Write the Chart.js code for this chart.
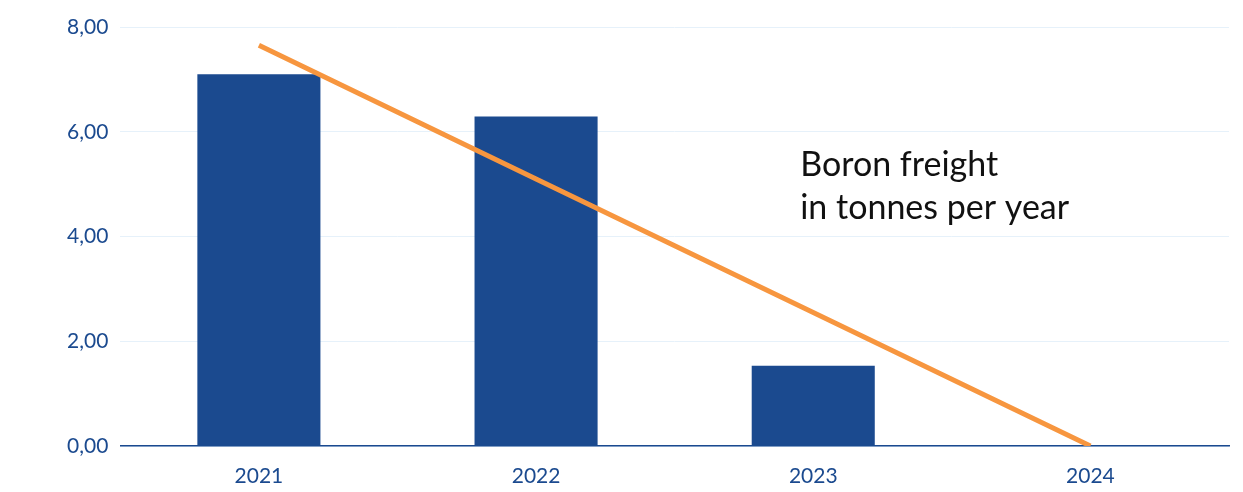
<!DOCTYPE html>
<html>
<head>
<meta charset="utf-8">
<script src="https://cdn.jsdelivr.net/npm/chart.js@4"></script>
<style>
  html, body { margin: 0; padding: 0; background: #fff; }
  #wrap { width: 1243px; height: 492px; }
</style>
</head>
<body>
<div id="wrap"><canvas id="myChart"></canvas></div>
<script>
// values
const years = ["2021", "2022", "2023", "2024"];
const freight = [7.10, 6.29, 1.53, 0];
const trend = [7.65, 5.10, 2.55, 0];
const noteLines = ["Boron freight", "in tonnes per year"];

const blue = "#1b4a8f";
const orange = "#f7963f";

// draws the text note inside the plot
const notePlugin = {
  id: "note",
  afterDraw(chart) {
    const ctx = chart.ctx;
    const x = chart.scales.x;
    const y = chart.scales.y;
    const step = x.getPixelForValue(2) - x.getPixelForValue(1);
    const left = x.getPixelForValue(1) + 0.953 * step;
    ctx.save();
    ctx.fillStyle = "#111";
    ctx.font = "34px Lato";
    ctx.textBaseline = "alphabetic";
    ctx.fillText(noteLines[0], left, y.getPixelForValue(5.16));
    ctx.fillText(noteLines[1], left, y.getPixelForValue(4.34));
    ctx.restore();
  }
};

const data = {
  labels: years,
  datasets: [
    {
      type: "line",
      label: "Trend",
      data: trend,
      borderColor: orange,
      borderWidth: 5,
      pointRadius: 0,
      tension: 0,
      order: 0
    },
    {
      type: "bar",
      label: "Boron freight",
      data: freight,
      backgroundColor: blue,
      barPercentage: 0.444,
      categoryPercentage: 1,
      order: 1
    }
  ]
};

const config = {
  data: data,
  options: {
    responsive: true,
    maintainAspectRatio: false,
    animation: false,
    layout: { padding: { top: 27, right: 14, bottom: 0, left: 55 } },
    plugins: {
      legend: { display: false },
      tooltip: { enabled: false }
    },
    scales: {
      x: {
        grid: { display: false },
        border: { display: true, color: blue, width: 1.5 },
        ticks: { color: blue, font: { family: "Lato", size: 21 }, padding: 10, maxRotation: 0 },
        afterFit: (scale) => { scale.height = 46; }
      },
      y: {
        min: 0,
        max: 8,
        grid: { color: "#e6f1fa", lineWidth: 1, drawTicks: false },
        border: { display: false },
        ticks: {
          stepSize: 2,
          color: blue,
          font: { family: "Lato", size: 21 },
          padding: 12,
          callback: (v) => v.toFixed(2).replace(".", ",")
        }
      }
    }
  },
  plugins: [notePlugin]
};

const ctx = document.getElementById("myChart");
const myChart = new Chart(ctx, config);
</script>
</body>
</html>
